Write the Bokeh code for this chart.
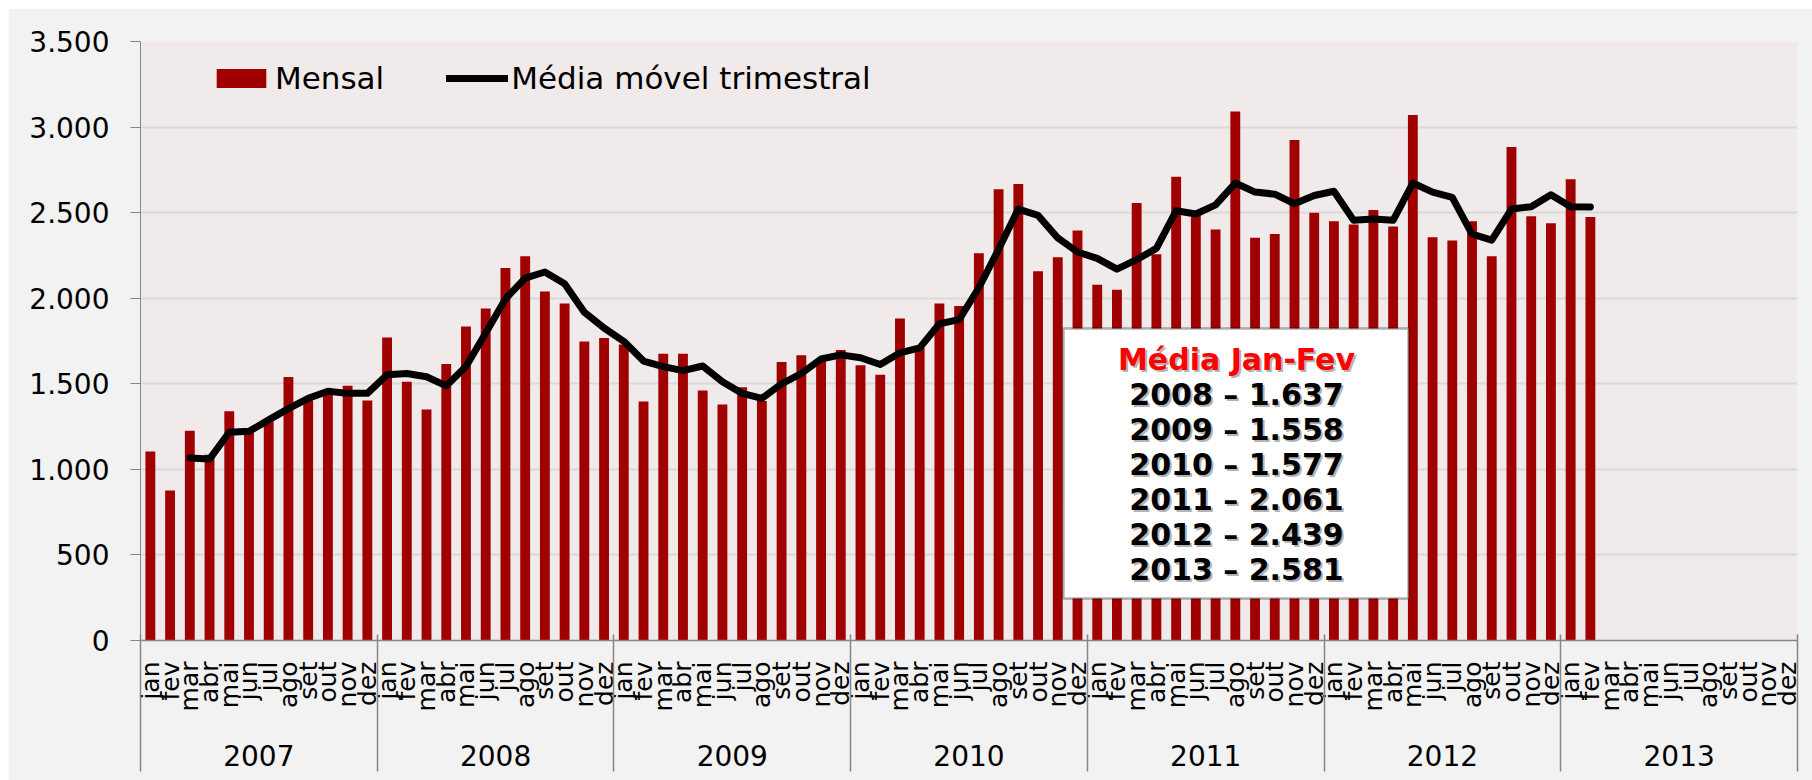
import math
from bokeh.plotting import figure
from bokeh.layouts import column, row
from bokeh.models import (Range1d, FixedTicker, BoxAnnotation, Label, LinearAxis,
                          Legend, LegendItem, Spacer)
from bokeh.embed import file_html
from bokeh.resources import INLINE

# ---------------- data ----------------
years = ["2007", "2008", "2009", "2010", "2011", "2012", "2013"]
months = ["jan", "fev", "mar", "abr", "mai", "jun", "jul", "ago", "set", "out", "nov", "dez"]

# Mensal (jan/2007 .. fev/2013)
mensal = [
    1105, 876, 1226, 1085, 1340, 1225, 1285, 1539, 1403, 1445, 1488, 1403,   # 2007
    1771, 1512, 1350, 1616, 1834, 1940, 2177, 2245, 2039, 1969, 1747, 1768,  # 2008
    1730, 1396, 1676, 1676, 1461, 1379, 1480, 1400, 1628, 1667, 1648, 1698,  # 2009
    1609, 1553, 1882, 1710, 1969, 1955, 2262, 2637, 2668, 2158, 2240, 2395,  # 2010
    2078, 2049, 2557, 2257, 2709, 2485, 2402, 3091, 2354, 2375, 2925, 2499,  # 2011
    2450, 2431, 2516, 2419, 3070, 2356, 2337, 2450, 2245, 2883, 2479, 2438,  # 2012
    2695, 2475,                                                              # 2013
]

# Média móvel trimestral (mar/2007 .. fev/2013)
media_movel = [
    1067, 1060, 1217, 1222, 1289, 1355, 1415, 1456, 1444, 1444,              # 2007
    1553, 1560, 1541, 1488, 1601, 1797, 1996, 2117, 2153, 2085, 1918, 1826,  # 2008
    1748, 1633, 1600, 1577, 1604, 1512, 1444, 1415, 1500, 1560, 1645, 1669,  # 2009
    1652, 1613, 1681, 1710, 1851, 1875, 2061, 2286, 2521, 2484, 2352, 2270,  # 2010
    2233, 2170, 2225, 2291, 2511, 2492, 2545, 2673, 2620, 2608, 2552, 2600,  # 2011
    2625, 2455, 2463, 2455, 2673, 2620, 2589, 2374, 2339, 2521, 2535, 2605,  # 2012
    2535, 2533,                                                              # 2013
]
ma_start = 2  # first moving-average month index (mar/2007)

y_ticks = [0, 500, 1000, 1500, 2000, 2500, 3000, 3500]
y_tick_labels = ["0", "500", "1.000", "1.500", "2.000", "2.500", "3.000", "3.500"]

box_title = "Média Jan-Fev"
jf_years = ["2008", "2009", "2010", "2011", "2012", "2013"]
jf_values = ["1.637", "1.558", "1.577", "2.061", "2.439", "2.581"]

# ---------------- positions on the month axis (slot i centred at i + 0.5) ----------------
n_m = len(months)
n_total = n_m * len(years)
bar_x = [i + 0.5 for i in range(len(mensal))]
ma_x = [ma_start + i + 0.5 for i in range(len(media_movel))]
month_ticks = [i + 0.5 for i in range(n_total)]
month_labels = {t: months[i % n_m] for i, t in enumerate(month_ticks)}
year_ticks = [n_m * k + n_m // 2 for k in range(len(years))]
year_labels = {t: yr for t, yr in zip(year_ticks, years)}
year_bounds = [n_m * k for k in range(len(years) + 1)]

FONT = "DejaVu Sans"
AXIS_GRAY = "#868686"

p = figure(width=1804, height=772,
           x_range=Range1d(0, n_total), y_range=Range1d(0, 3500),
           x_axis_location=None,
           output_backend="svg", toolbar_location=None,
           min_border_left=132, min_border_right=15, min_border_top=33,
           min_border_bottom=140)

p.background_fill_color = "#f0eaea"
p.border_fill_color = "#f2f2f2"
p.outline_line_color = None

bars = p.vbar(x=bar_x, top=mensal, width=0.5, fill_color="#a00000", line_color=None)
line = p.line(x=ma_x, y=media_movel, line_color="black", line_width=7,
              line_cap="round", line_join="round")

# grid
p.xgrid.grid_line_color = None
p.ygrid.grid_line_color = "#d9d9d9"
p.ygrid.grid_line_width = 2

# y axis
p.yaxis.ticker = FixedTicker(ticks=y_ticks)
p.yaxis.major_label_overrides = {t: l for t, l in zip(y_ticks, y_tick_labels)}
p.yaxis.minor_tick_line_color = None
p.yaxis.major_tick_out = 10
p.yaxis.major_tick_in = 0
p.yaxis.major_tick_line_color = AXIS_GRAY
p.yaxis.axis_line_color = AXIS_GRAY
p.yaxis.major_label_standoff = 21
p.yaxis.major_label_text_font = FONT
p.yaxis.major_label_text_font_size = "28px"
p.yaxis.major_label_text_color = "black"

# month axis
month_axis = LinearAxis(ticker=FixedTicker(ticks=month_ticks, minor_ticks=[]),
                        major_label_overrides=month_labels,
                        major_label_orientation=math.pi / 2,
                        major_label_text_font=FONT, major_label_text_font_size="25px",
                        major_label_text_color="black", major_label_standoff=21,
                        major_tick_out=0, major_tick_in=0,
                        major_tick_line_color=None, minor_tick_line_color=None,
                        minor_tick_out=0, minor_tick_in=0,
                        axis_line_color=AXIS_GRAY, axis_line_width=1.5)
p.add_layout(month_axis, "below")

# year axis
year_axis = LinearAxis(ticker=FixedTicker(ticks=year_ticks, minor_ticks=[]),
                       major_label_overrides=year_labels,
                       major_label_text_font=FONT, major_label_text_font_size="28px",
                       major_label_text_color="black", major_label_standoff=30,
                       major_tick_out=0, major_tick_in=0,
                       minor_tick_out=0, minor_tick_in=0,
                       major_tick_line_color=None, minor_tick_line_color=None,
                       axis_line_color=None)
p.add_layout(year_axis, "below")

# year separators: inward minor ticks of an outermost, label-less axis
sep_axis = LinearAxis(ticker=FixedTicker(ticks=[], minor_ticks=year_bounds),
                      major_tick_out=0, major_tick_in=0, major_label_standoff=0,
                      major_tick_line_color=None,
                      minor_tick_in=134, minor_tick_out=3,
                      minor_tick_line_color=AXIS_GRAY, minor_tick_line_width=1.5,
                      axis_line_color=None)
p.add_layout(sep_axis, "below")

# legend
legend = Legend(items=[LegendItem(label="Mensal", renderers=[bars]),
                       LegendItem(label="Média móvel trimestral", renderers=[line])],
                location=(70, 544), orientation="horizontal",
                background_fill_alpha=0, border_line_color=None,
                padding=0, margin=0, spacing=62, label_standoff=3,
                glyph_width=62, glyph_height=24,
                label_text_font=FONT, label_text_font_size="31px",
                label_text_color="black")
p.add_layout(legend, "center")

# annotation box (screen units relative to plot frame)
p.add_layout(BoxAnnotation(left=923, right=1268, bottom=42, top=312,
                           left_units="screen", right_units="screen",
                           bottom_units="screen", top_units="screen",
                           fill_color="white", fill_alpha=1.0,
                           line_color="black", line_width=2.5))

rows = [(box_title, "#ff0000")] + [(f"{y} – {v}", "black") for y, v in zip(jf_years, jf_values)]
y0 = 281
for i, (txt, col) in enumerate(rows):
    yy = y0 - 35 * i
    p.add_layout(Label(x=1098, y=yy - 2, x_units="screen", y_units="screen", text=txt,
                       text_align="center", text_baseline="middle",
                       text_font=FONT, text_font_style="bold", text_font_size="30px",
                       text_color="#7f7f7f", text_alpha=0.6))
    p.add_layout(Label(x=1096, y=yy, x_units="screen", y_units="screen", text=txt,
                       text_align="center", text_baseline="middle",
                       text_font=FONT, text_font_style="bold", text_font_size="30px",
                       text_color=col))

layout = column(Spacer(height=8), row(Spacer(width=8), p))
open("out.html", "w").write(file_html(layout, INLINE))
